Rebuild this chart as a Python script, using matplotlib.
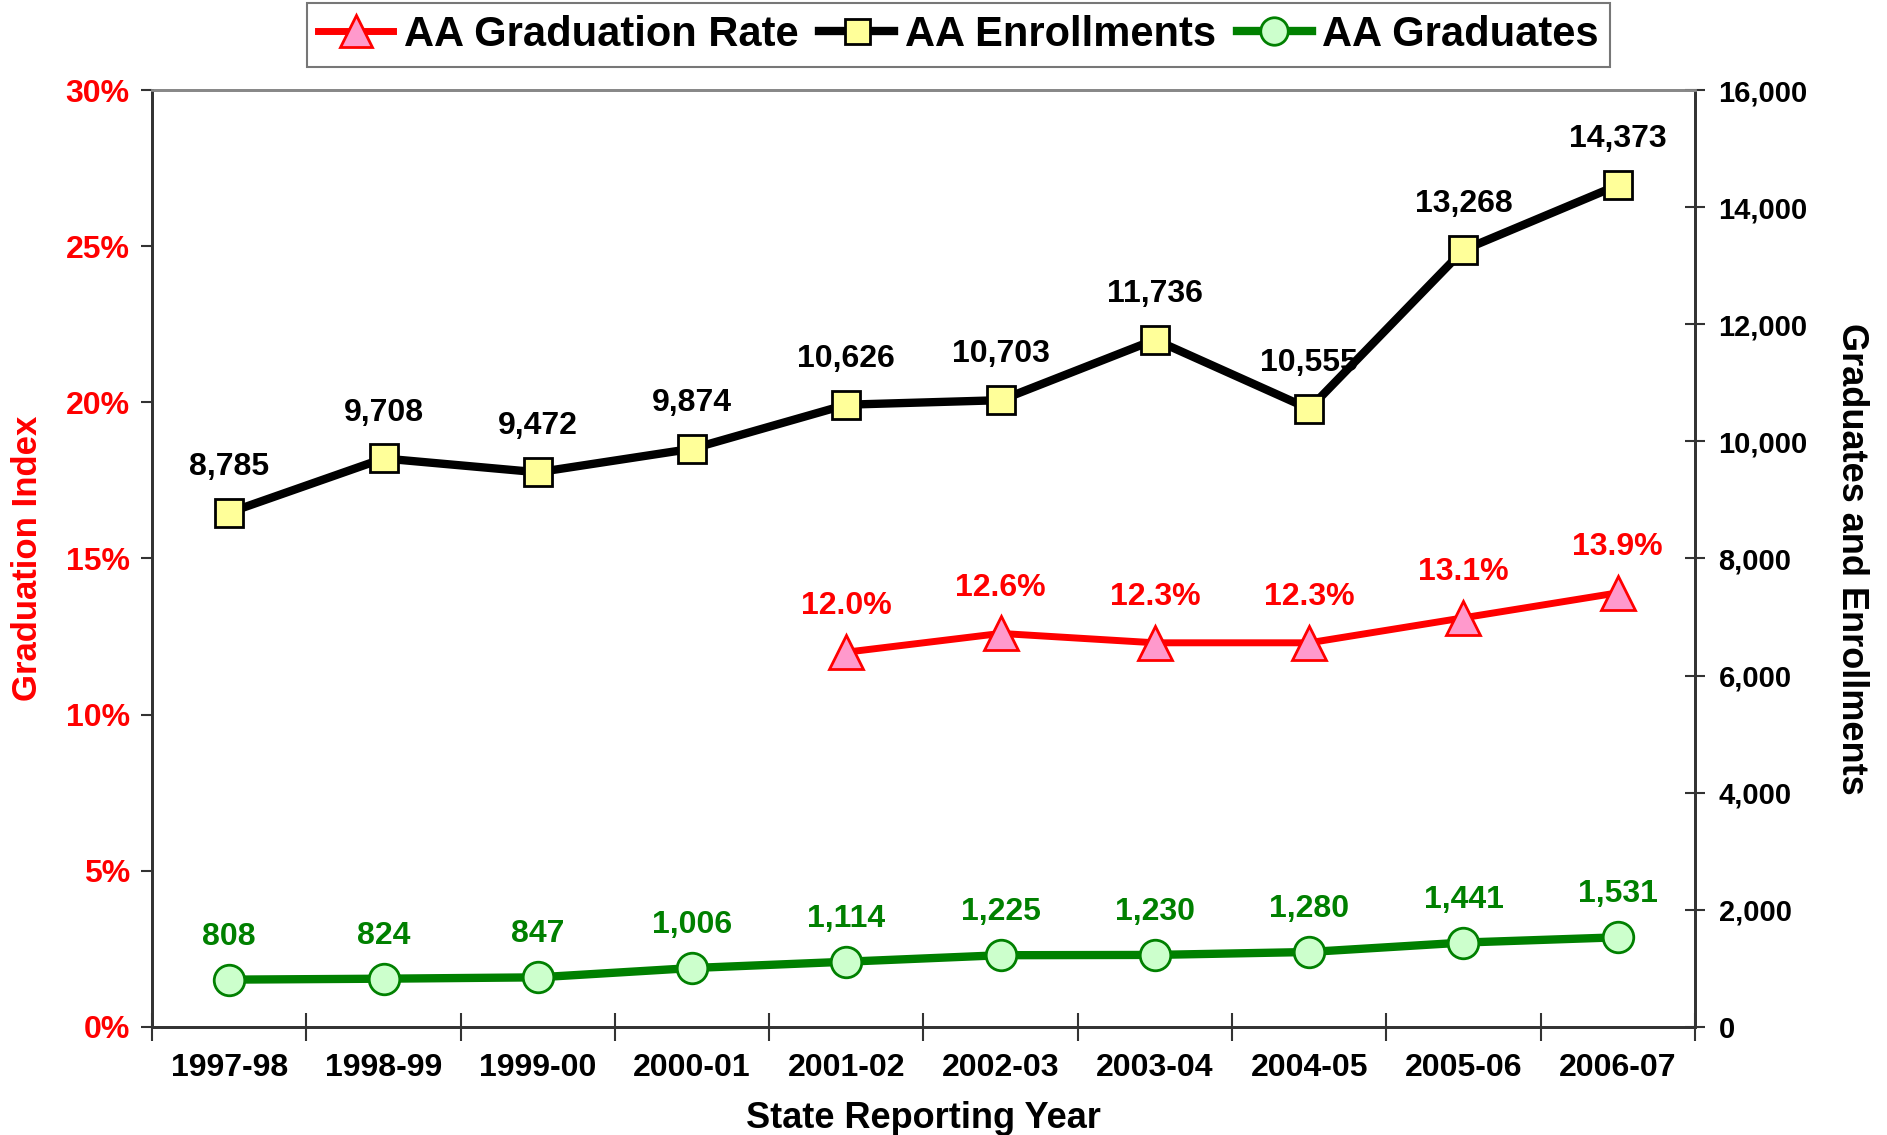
import matplotlib
matplotlib.use('Agg')
import matplotlib.pyplot as plt
from matplotlib.ticker import FuncFormatter, FixedLocator

plt.rcParams['font.family'] = ['Liberation Sans', 'DejaVu Sans']
plt.rcParams['font.weight'] = 'bold'

years = ['1997-98', '1998-99', '1999-00', '2000-01', '2001-02',
         '2002-03', '2003-04', '2004-05', '2005-06', '2006-07']
enrollments = [8785, 9708, 9472, 9874, 10626, 10703, 11736, 10555, 13268, 14373]
graduates = [808, 824, 847, 1006, 1114, 1225, 1230, 1280, 1441, 1531]
grad_rate = [None, None, None, None, 12.0, 12.6, 12.3, 12.3, 13.1, 13.9]

x = [i + 0.5 for i in range(len(years))]

fig = plt.figure(figsize=(18.87, 11.35), dpi=100)
ax = fig.add_axes([0.0806, 0.0952, 0.8176, 0.8255])
ax2 = ax.twinx()

# left axis: graduation rate
rx = [xi for xi, r in zip(x, grad_rate) if r is not None]
ry = [r for r in grad_rate if r is not None]
l1, = ax.plot(rx, ry, color='red', lw=5, marker='^', markersize=25,
              markerfacecolor='#ff99cc', markeredgecolor='red', markeredgewidth=2,
              zorder=3)
ax.set_xlim(0, 10)
ax.set_ylim(0, 30)
ax.yaxis.set_major_locator(FixedLocator([0, 5, 10, 15, 20, 25, 30]))
ax.yaxis.set_major_formatter(FuncFormatter(lambda v, p: '%d%%' % v))
ax.tick_params(axis='y', colors='red', labelsize=23, length=8, width=1.5,
               direction='out', pad=8)
ax.tick_params(axis='y', color='#333333')
ax.set_ylabel('Graduation Index', color='red', fontsize=25, fontweight='bold',
              labelpad=16)

ax.set_xticks(x)
ax.set_xticklabels(years)
ax.tick_params(axis='x', length=0, labelsize=23, pad=19, labelcolor='black')
ax.set_xticks(range(0, 11), minor=True)
ax.tick_params(axis='x', which='minor', direction='inout', length=20,
               width=1.5, color='#333333')
ax.set_xlabel('State Reporting Year', fontsize=26, fontweight='bold', labelpad=13)

# right axis: enrollments and graduates
l2, = ax2.plot(x, enrollments, color='black', lw=6, marker='s', markersize=20,
               markerfacecolor='#ffff99', markeredgecolor='black',
               markeredgewidth=2, zorder=3)
l3, = ax2.plot(x, graduates, color='green', lw=6, marker='o', markersize=22,
               markerfacecolor='#ccffcc', markeredgecolor='green',
               markeredgewidth=2, zorder=3)
ax2.set_ylim(0, 16000)
ax2.yaxis.set_major_locator(FixedLocator(range(0, 16001, 2000)))
ax2.yaxis.set_major_formatter(FuncFormatter(lambda v, p: '{:,.0f}'.format(v)))
ax2.tick_params(axis='y', labelsize=21, direction='inout', length=14,
                width=1.5, color='#333333', pad=10)
ax2.set_ylabel('Graduates and Enrollments', fontsize=26, fontweight='bold',
               rotation=270, labelpad=44)

for a in (ax, ax2):
    a.spines['top'].set_color('#888888')
    a.spines['top'].set_linewidth(2)
    for side in ('left', 'right', 'bottom'):
        a.spines[side].set_color('#333333')
        a.spines[side].set_linewidth(2)

# data labels
for xi, v in zip(x, enrollments):
    ax2.annotate('{:,}'.format(v), (xi, v), xytext=(0, 33), textcoords='offset points',
                 ha='center', va='center', fontsize=23, fontweight='bold', color='black')
for xi, v in zip(x, graduates):
    ax2.annotate('{:,}'.format(v), (xi, v), xytext=(0, 31), textcoords='offset points',
                 ha='center', va='center', fontsize=23, fontweight='bold', color='green')
for xi, v in zip(rx, ry):
    ax.annotate('%.1f%%' % v, (xi, v), xytext=(0, 33), textcoords='offset points',
                ha='center', va='center', fontsize=23, fontweight='bold', color='red')

leg = fig.legend([l1, l2, l3], ['AA Graduation Rate', 'AA Enrollments', 'AA Graduates'],
                 loc='upper center', bbox_to_anchor=(0.508, 0.997), ncol=3,
                 fontsize=30, frameon=True, fancybox=False, handlelength=1.8,
                 handletextpad=0.25, columnspacing=0.5, borderpad=0.28,
                 borderaxespad=0.0, markerscale=0.9)
leg.get_frame().set_edgecolor('#555555')
leg.get_frame().set_linewidth(1.5)

fig.savefig('out.png', dpi=100)
